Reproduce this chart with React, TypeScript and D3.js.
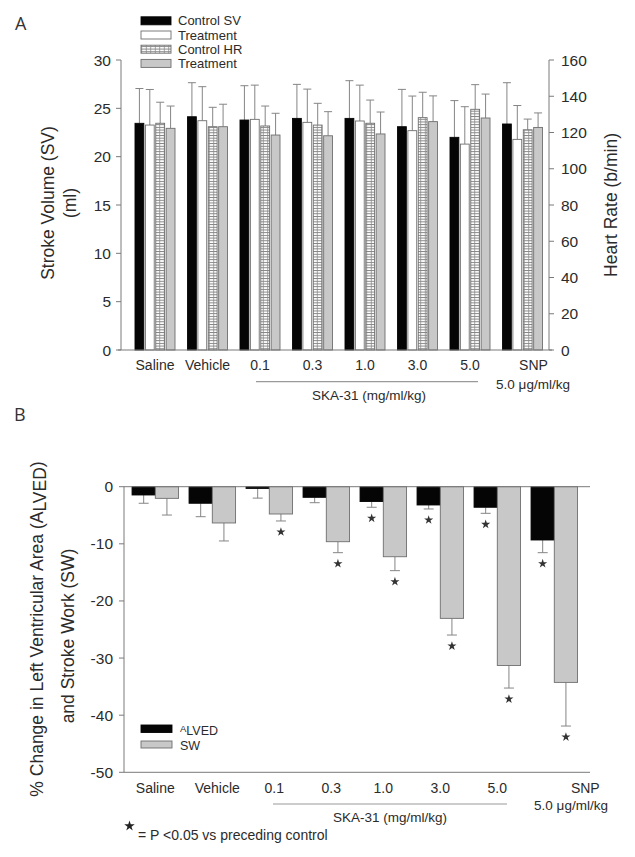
import React from "react";
import * as d3 from "d3";

// ---------- DATA ----------
const groups = ["Saline", "Vehicle", "0.1", "0.3", "1.0", "3.0", "5.0", "SNP"];

// Panel A: stroke volume (ml) and heart rate (b/min), mean and SEM
const svControl = [23.45, 24.13, 23.79, 23.96, 23.96, 23.1, 22.0, 23.38];
const svControlErr = [3.6, 3.52, 3.55, 3.52, 3.9, 3.86, 3.8, 4.27];
const svTreat = [23.27, 23.72, 23.86, 23.55, 23.69, 22.69, 21.3, 21.79];
const svTreatErr = [3.68, 3.52, 3.54, 3.44, 3.71, 3.58, 3.87, 3.5];
const hrControl = [125.1, 123.2, 123.6, 124.1, 125.1, 128.2, 132.8, 121.5];
const hrControlErr = [11.6, 10.7, 11.0, 12.0, 12.8, 14.0, 13.6, 5.9];
const hrTreat = [122.3, 123.2, 118.6, 118.2, 119.2, 126.0, 128.0, 122.8];
const hrTreatErr = [12.3, 12.4, 12.0, 13.3, 12.1, 14.2, 13.2, 8.0];

const svTicks = [0, 5, 10, 15, 20, 25, 30];
const hrTicks = [0, 20, 40, 60, 80, 100, 120, 140, 160];
const legendA = ["Control SV", "Treatment", "Control HR", "Treatment"];

// Panel B: % change, mean and SEM, significance flags
const alved = [-1.45, -2.9, -0.3, -1.86, -2.6, -3.2, -3.6, -9.33];
const alvedErr = [1.45, 2.35, 1.7, 0.94, 1.0, 0.7, 1.06, 2.22];
const alvedSig = [false, false, false, false, true, true, true, true];
const sw = [-2.04, -6.35, -4.78, -9.63, -12.26, -23.05, -31.3, -34.26];
const swErr = [2.92, 3.15, 1.22, 1.92, 2.44, 2.92, 3.95, 7.64];
const swSig = [false, false, true, true, true, true, true, true];
const pctTicks = [0, -10, -20, -30, -40, -50];

const ska = "SKA-31 (mg/ml/kg)";
const snpDose = "5.0 \u03bcg/ml/kg";
const footnote = "= P <0.05 vs preceding control";

// ---------- STYLE ----------
const FONT = "'Liberation Sans', Arial, Helvetica, sans-serif";
const TXT = "#2b2b2b";
const AX = "#7a7a7a";
const OUT = "#6e6e6e";
const GREY = "#c8c8c8";
const ERR = "#858585";

export default function App() {
  // ----- Panel A scales -----
  const yA = d3.scaleLinear().domain([0, 30]).range([350, 60]);
  const yHR = d3.scaleLinear().domain([0, 160]).range([350, 60]);
  const xA = d3
    .scaleBand<string>()
    .domain(groups)
    .range([128.75, 548.75])
    .paddingInner(0.238)
    .paddingOuter(0.119);
  const xInA = d3
    .scaleBand<number>()
    .domain([0, 1, 2, 3])
    .range([0, xA.bandwidth()])
    .paddingInner(0.15);

  const seriesA = [
    { vals: svControl, errs: svControlErr, y: yA, fill: "#050505", stroke: "#050505" },
    { vals: svTreat, errs: svTreatErr, y: yA, fill: "#ffffff", stroke: OUT },
    { vals: hrControl, errs: hrControlErr, y: yHR, fill: "url(#hatch)", stroke: OUT },
    { vals: hrTreat, errs: hrTreatErr, y: yHR, fill: GREY, stroke: OUT },
  ];

  // ----- Panel B scales -----
  const yB = d3.scaleLinear().domain([-50, 0]).range([772.3, 486.7]);
  const xB = d3
    .scaleBand<string>()
    .domain(groups)
    .range([126.8, 582.8])
    .paddingInner(0.184)
    .paddingOuter(0.092);
  const xInB = d3
    .scaleBand<number>()
    .domain([0, 1])
    .range([0, xB.bandwidth()])
    .paddingInner(0);

  const seriesB = [
    { vals: alved, errs: alvedErr, sig: alvedSig, fill: "#050505", stroke: "#050505" },
    { vals: sw, errs: swErr, sig: swSig, fill: GREY, stroke: OUT },
  ];

  const starPath = d3.symbol().type(d3.symbolStar).size(26)() as string;
  const bigStar = d3.symbol().type(d3.symbolStar).size(34)() as string;

  const capA = 4;
  const capB = 5;
  const axA0 = 121;
  const axA1 = 549;

  return (
    <svg
      width={635}
      height={857}
      style={{ position: "absolute", left: 0, top: 0, background: "#fff" }}
      fontFamily={FONT}
    >
      <defs>
        <pattern id="hatch" width={4.5} height={2.7} patternUnits="userSpaceOnUse">
          <rect width={4.5} height={2.7} fill="#fff" />
          <line x1={0} x2={4.5} y1={0.5} y2={0.5} stroke="#7a7a7a" strokeWidth={0.9} />
          <line x1={2.25} x2={2.25} y1={0} y2={2.7} stroke="#8a8a8a" strokeWidth={0.8} />
        </pattern>
      </defs>
      <rect width={635} height={857} fill="#fff" />

      {/* ================= PANEL A ================= */}
      <text x={15} y={30} fontFamily="'Open Sans', sans-serif" fontSize={18} fill="#333">
        A
      </text>

      {/* legend A */}
      {legendA.map((lab, i) => {
        const cy = 20.8 + i * 14.2;
        const s = seriesA[i];
        return (
          <g key={"la" + i}>
            <rect x={141} y={cy - 4} width={30} height={8} fill={s.fill} stroke={s.stroke} strokeWidth={0.9} />
            <text x={178} y={cy + 4.6} fontSize={13} fill={TXT}>
              {lab}
            </text>
          </g>
        );
      })}

      {/* bars A */}
      {seriesA.map((s, si) =>
        groups.map((g, gi) => {
          const x0 = (xA(g) as number) + (xInA(si) as number);
          const w = xInA.bandwidth();
          const yt = s.y(s.vals[gi]);
          const ye = s.y(s.vals[gi] + s.errs[gi]);
          const cx = x0 + w / 2;
          return (
            <g key={`a${si}-${gi}`}>
              <line x1={cx} x2={cx} y1={yt} y2={ye} stroke={ERR} strokeWidth={1} />
              <line x1={cx - capA} x2={cx + capA} y1={ye} y2={ye} stroke={ERR} strokeWidth={1} />
              <rect
                x={x0}
                y={yt}
                width={w}
                height={s.y(0) - yt}
                fill={s.fill}
                stroke={s.stroke}
                strokeWidth={0.9}
              />
            </g>
          );
        })
      )}

      {/* axes A */}
      <line x1={axA0} x2={axA0} y1={yA(30)} y2={yA(0)} stroke={AX} strokeWidth={1} />
      <line x1={axA1} x2={axA1} y1={yHR(160)} y2={yHR(0)} stroke={AX} strokeWidth={1} />
      <line x1={axA0 - 3} x2={axA1 + 3} y1={yA(0)} y2={yA(0)} stroke={AX} strokeWidth={1} />
      {svTicks.map((t) => (
        <g key={"ta" + t}>
          <line x1={axA0 - 5} x2={axA0} y1={yA(t)} y2={yA(t)} stroke={AX} />
          <text x={111} y={yA(t) + 5.5} fontSize={15.5} textAnchor="end" fill={TXT}>
            {t}
          </text>
        </g>
      ))}
      {hrTicks.map((t) => (
        <g key={"th" + t}>
          <line x1={axA1} x2={axA1 + 5} y1={yHR(t)} y2={yHR(t)} stroke={AX} />
          <text x={561} y={yHR(t) + 5.5} fontSize={15.5} textAnchor="start" fill={TXT}>
            {t}
          </text>
        </g>
      ))}

      {/* x labels A */}
      {groups.map((g, gi) => {
        const cx = (xA(g) as number) + xA.bandwidth() / 2 + (gi === 7 ? 11 : 0);
        return (
          <text key={"xa" + g} x={cx} y={370} fontSize={14} textAnchor="middle" fill={TXT}>
            {g}
          </text>
        );
      })}
      <line x1={256} x2={478} y1={381.7} y2={381.7} stroke="#9a9a9a" strokeWidth={1.2} />
      <text x={369} y={400} fontSize={13.5} textAnchor="middle" fill={TXT}>
        {ska}
      </text>
      <text x={533} y={389} fontSize={13.5} textAnchor="middle" fill={TXT}>
        {snpDose}
      </text>

      {/* y titles A */}
      <text transform="translate(54,203) rotate(-90)" fontSize={17.5} textAnchor="middle" fill={TXT}>
        Stroke Volume (SV)
      </text>
      <text transform="translate(76,203) rotate(-90)" fontSize={17.5} textAnchor="middle" fill={TXT}>
        (ml)
      </text>
      <text transform="translate(617,205) rotate(-90)" fontSize={17.5} textAnchor="middle" fill={TXT}>
        Heart Rate (b/min)
      </text>

      {/* ================= PANEL B ================= */}
      <text x={14} y={421} fontFamily="'Open Sans', sans-serif" fontSize={18} fill="#333">
        B
      </text>

      {/* bars B */}
      {seriesB.map((s, si) =>
        groups.map((g, gi) => {
          const x0 = (xB(g) as number) + (xInB(si) as number);
          const w = xInB.bandwidth();
          const yb = yB(s.vals[gi]);
          const ye = yB(s.vals[gi] - s.errs[gi]);
          const cx = x0 + w / 2;
          return (
            <g key={`b${si}-${gi}`}>
              <line x1={cx} x2={cx} y1={yb} y2={ye} stroke={ERR} strokeWidth={1} />
              <line x1={cx - capB} x2={cx + capB} y1={ye} y2={ye} stroke={ERR} strokeWidth={1} />
              <rect
                x={x0}
                y={yB(0)}
                width={w}
                height={yb - yB(0)}
                fill={s.fill}
                stroke={s.stroke}
                strokeWidth={0.9}
              />
              {s.sig[gi] && (
                <path d={starPath} transform={`translate(${cx},${ye + 11})`} fill="#333" />
              )}
            </g>
          );
        })
      )}

      {/* axes B */}
      <line x1={124} x2={124} y1={yB(0)} y2={yB(-50)} stroke={AX} strokeWidth={1} />
      <line x1={124} x2={590} y1={yB(0)} y2={yB(0)} stroke={AX} strokeWidth={1} />
      <line x1={124} x2={590} y1={yB(-50)} y2={yB(-50)} stroke={AX} strokeWidth={1} />
      {pctTicks.map((t) => (
        <g key={"tb" + t}>
          <line x1={119} x2={124} y1={yB(t)} y2={yB(t)} stroke={AX} />
          <text x={113} y={yB(t) + 5.5} fontSize={15.5} textAnchor="end" fill={TXT}>
            {t}
          </text>
        </g>
      ))}

      {/* legend B */}
      <rect x={141} y={725} width={31} height={7.5} fill="#050505" stroke="#050505" strokeWidth={0.9} />
      <text x={180} y={735} fontSize={12.5} fill={TXT}>
        <tspan fontSize={9.5} dy={-3}>
          A
        </tspan>
        <tspan dy={3}>LVED</tspan>
      </text>
      <rect x={141} y={741} width={31} height={7} fill={GREY} stroke={OUT} strokeWidth={0.9} />
      <text x={180} y={749.5} fontSize={12.5} fill={TXT}>
        SW
      </text>

      {/* x labels B */}
      {groups.map((g, gi) => {
        const cx = (xB(g) as number) + xB.bandwidth() / 2 + (gi === 7 ? 31 : gi >= 1 && gi <= 3 ? 5 : 0);
        return (
          <text key={"xb" + g} x={cx} y={793} fontSize={14} textAnchor="middle" fill={TXT}>
            {g}
          </text>
        );
      })}
      <line x1={273} x2={507} y1={804} y2={804} stroke="#9a9a9a" strokeWidth={1.2} />
      <text x={390} y={821.5} fontSize={13.5} textAnchor="middle" fill={TXT}>
        {ska}
      </text>
      <text x={571} y={810} fontSize={13.5} textAnchor="middle" fill={TXT}>
        {snpDose}
      </text>

      {/* footnote */}
      <path d={bigStar} transform="translate(129.5,826)" fill="#222" />
      <text x={138} y={840} fontSize={14} fill={TXT}>
        {footnote}
      </text>

      {/* y title B */}
      <text transform="translate(43,629) rotate(-90)" fontSize={17.5} textAnchor="middle" fill={TXT}>
        % Change in Left Ventricular Area (A
        <tspan dy={3}>LVED</tspan>
        <tspan dy={-3}>)</tspan>
      </text>
      <text transform="translate(74,636) rotate(-90)" fontSize={17.5} textAnchor="middle" fill={TXT}>
        and Stroke Work (SW)
      </text>
    </svg>
  );
}
